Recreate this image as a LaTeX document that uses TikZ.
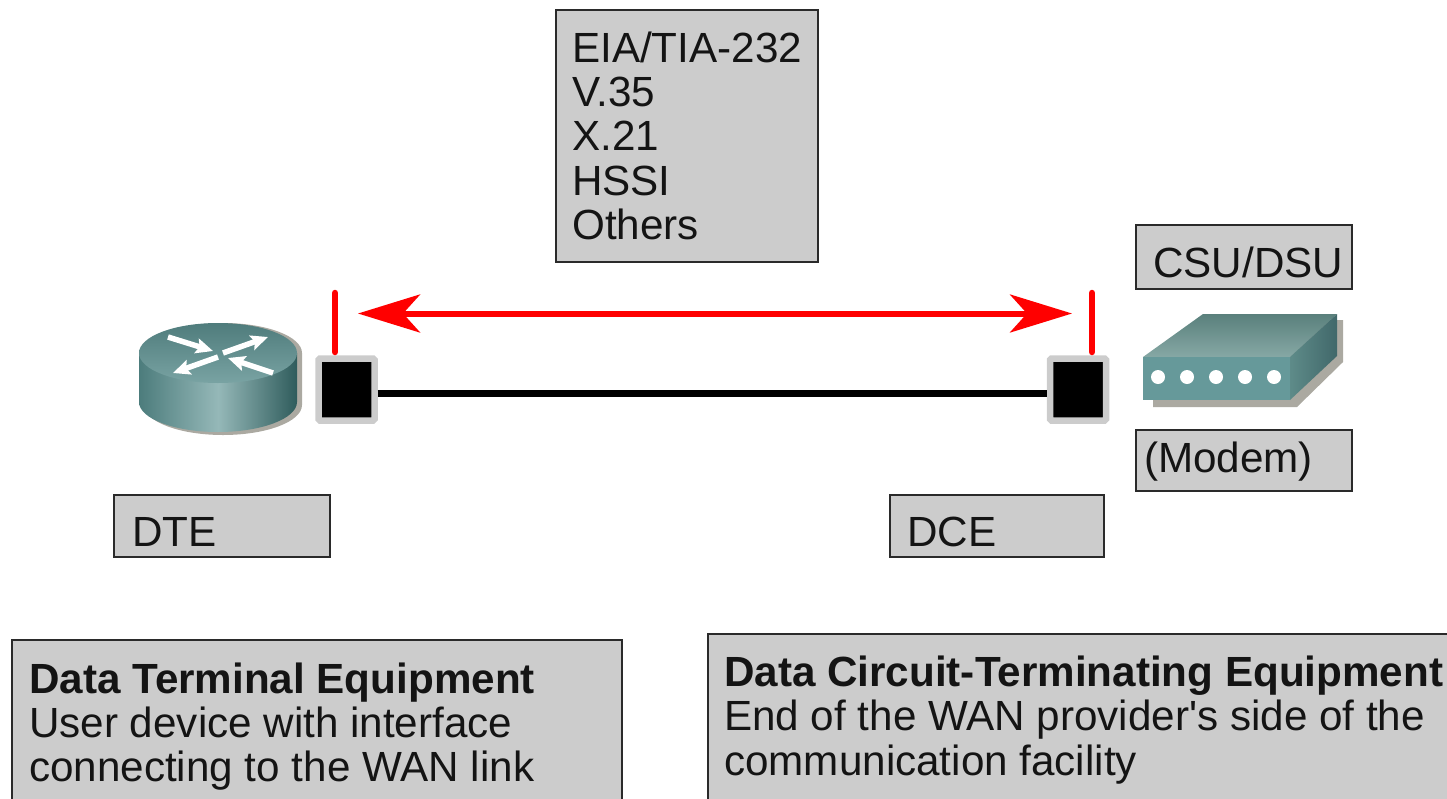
\documentclass[tikz,border=0pt]{standalone}
\usepackage{fontspec}
\setmainfont{Liberation Sans}
\newfontfamily\plainfont{Liberation Sans}
\usetikzlibrary{arrows.meta}
\definecolor{boxgray}{HTML}{CCCCCC}
\definecolor{boxline}{HTML}{2A2A2A}
\definecolor{shadowgray}{HTML}{ABA9A1}
\definecolor{rleft}{HTML}{4C7C7C}
\definecolor{rmid}{HTML}{95B8B8}
\definecolor{rright}{HTML}{2F5C5C}
\definecolor{rtop}{HTML}{4F7C7C}
\definecolor{rbot}{HTML}{79A3A3}
\definecolor{mtop}{HTML}{5A807C}
\definecolor{mbot}{HTML}{86A8A5}
\definecolor{mfront}{HTML}{66999A}
\definecolor{mside}{HTML}{5E8B89}
\definecolor{msider}{HTML}{41686A}
\tikzset{
  x=1pt,y=-1pt,
  infobox/.style={draw=boxline,fill=boxgray,line width=1.6pt},
  boxtext/.style={anchor=base west,inner sep=0pt,font=\fontsize{42.2}{44.5}\selectfont,text=black!92},
  port/.style={draw=boxgray,line width=6.5pt,fill=black,rounded corners=1.5pt,minimum width=56pt,minimum height=62pt,inner sep=0pt,outer sep=3.2pt},
  redline/.style={draw=red,line width=6.5pt,line cap=round},
  redarrow/.style={draw=red,line width=6pt,{Stealth[length=62pt,width=38pt,inset=17pt]}-{Stealth[length=62pt,width=38pt,inset=17pt]}},
  wire/.style={draw=black,line width=7pt},
  routerarrow/.style={draw=white,line width=5.5pt,-{Stealth[length=17pt,width=15pt,inset=3pt]}},
}
\begin{document}
\begin{tikzpicture}
\useasboundingbox (0,0) rectangle (1447,798);
% info boxes
\path[infobox] (556,10) rectangle (818,262);
\path[infobox] (1136,225) rectangle (1352,289);
\path[infobox] (1136,430) rectangle (1352,491);
\path[infobox] (114,495) rectangle (330,557);
\path[infobox] (890,495) rectangle (1104,557);
\path[infobox] (12,640) -- (12,800) -- (622,800) -- (622,640) -- cycle;
\path[infobox] (708,634) -- (708,800) -- (1449,800) -- (1449,634) -- cycle;
\node[boxtext] (std1) at (572,62) {EIA/TIA-232};
\node[boxtext] (std2) at (572,106) {V.35};
\node[boxtext] (std3) at (572,150.5) {X.21};
\node[boxtext] (std4) at (572,195) {HSSI};
\node[boxtext] (std5) at (572,239) {Others};
\node[boxtext] (csu) at (1153,277) {CSU/DSU};
\node[boxtext] (modem) at (1144,472.5) {(Modem)};
\node[boxtext] (dte) at (132,546) {DTE};
\node[boxtext] (dce) at (907,546) {DCE};
\node[boxtext] (dtetitle) at (29,693.5) {\bfseries Data Terminal Equipment};
\node[boxtext] (dte1) at (29,737.5) {User device with interface};
\node[boxtext] (dte2) at (29,781.5) {connecting to the WAN link};
\node[boxtext] (dcetitle) at (724,686.5) {\bfseries Data Circuit-Terminating Equipment};
\node[boxtext] (dce1) at (724,730.5) {End of the WAN provider{\plainfont'}s side of the};
\node[boxtext] (dce2) at (724,775) {communication facility};
% router
\fill[shadowgray] (144,353) arc[start angle=180,end angle=360,x radius=79,y radius=30] -- (302,405) arc[start angle=0,end angle=180,x radius=79,y radius=30] -- cycle;
\shade[left color=rleft,right color=rright,middle color=rmid] (139,353) -- (139,402) arc[start angle=180,end angle=0,x radius=79,y radius=30] -- (297,353) -- cycle;
\shade[top color=rtop,bottom color=rbot] (218,353) ellipse[x radius=79,y radius=30];
\coordinate (a1) at (168,337); \coordinate (a2) at (213,351);
\coordinate (b1) at (223,353); \coordinate (b2) at (268,337);
\coordinate (c1) at (218,357); \coordinate (c2) at (173,373);
\coordinate (d1) at (273,373); \coordinate (d2) at (228,358);
\draw[routerarrow] (a1) -- (a2);
\draw[routerarrow] (b1) -- (b2);
\draw[routerarrow] (c1) -- (c2);
\draw[routerarrow] (d1) -- (d2);
% modem
\fill[shadowgray] (1153,407) -- (1297,407) -- (1343,362) -- (1343,320) -- (1300,320) -- (1153,390) -- cycle;
\shade[top color=mtop,bottom color=mbot] (1143,357) -- (1203,314) -- (1337,314) -- (1290,357) -- cycle;
\fill[mfront] (1143,357) rectangle (1290,400);
\shade[left color=mside,right color=msider] (1290,357) -- (1337,314) -- (1337,356) -- (1290,400) -- cycle;
\foreach \dx in {1158,1187,1216,1245,1274}
  \fill[white] (\dx,377) circle[radius=7];
% ports and connectors
\node[port] (pl) at (346.5,389.5) {};
\node[port] (pr) at (1078,389.5) {};
\coordinate (lt) at (335,293);
\coordinate (rt) at (1092,293);
\coordinate (ll) at (335,352);
\coordinate (rl) at (1092,352);
\coordinate (as) at (358,313.5);
\coordinate (ae) at (1072,313.5);
\draw[redline] (lt) -- (ll);
\draw[redline] (rt) -- (rl);
\draw[redarrow] (as) -- (ae);
\draw[wire] ([yshift=-3.5pt]pl.east) -- ([yshift=-3.5pt]pr.west);
\end{tikzpicture}
\end{document}
